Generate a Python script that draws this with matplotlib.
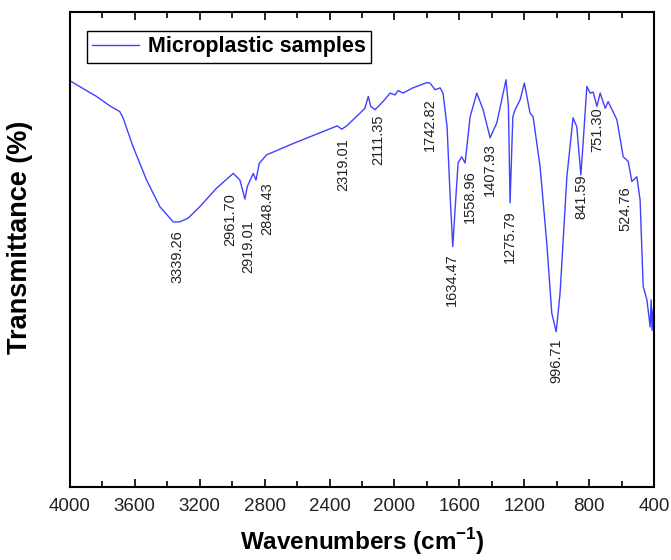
import matplotlib
matplotlib.use("Agg")
from matplotlib import pyplot as plt
from matplotlib.ticker import MultipleLocator

plt.rcParams['font.family'] = ['Liberation Sans', 'DejaVu Sans']
plt.rcParams['mathtext.fontset'] = 'custom'
plt.rcParams['mathtext.rm'] = 'Liberation Sans'
plt.rcParams['mathtext.bf'] = 'Liberation Sans:bold'

# FTIR spectrum, wavenumber (cm-1) vs transmittance (arbitrary %)
wavenumber = [4000, 3990, 3836, 3753, 3692, 3671, 3610, 3527, 3445, 3363, 3322, 3271,
              3199, 3096, 2993, 2952, 2921, 2907, 2870, 2853, 2833, 2788, 2623, 2367,
              2352, 2325, 2294, 2233, 2182, 2161, 2147, 2120, 2071, 2027, 1997, 1978,
              1947, 1886, 1800, 1781, 1750, 1719, 1701, 1676, 1658, 1641, 1627, 1608,
              1586, 1565, 1534, 1493, 1454, 1411, 1370, 1339, 1313, 1298, 1288, 1271,
              1257, 1226, 1200, 1165, 1146, 1103, 1062, 1031, 1004, 980, 938, 900,
              877, 852, 838, 815, 795, 776, 753, 733, 702, 684, 630, 591,
              560, 538, 507, 487, 468, 445, 425, 419, 413, 407]
transmittance = [85.5, 85.3, 82.2, 80.2, 79.0, 77.6, 71.6, 64.6, 59.0, 55.8, 55.8, 56.6,
                 59.0, 62.9, 66.0, 64.6, 60.6, 63.2, 66.0, 64.6, 68.1, 69.9, 72.3, 75.8,
                 76.0, 75.3, 76.0, 78.0, 79.7, 82.2, 80.1, 79.4, 81.1, 82.9, 82.5, 83.4,
                 82.9, 84.0, 85.1, 85.0, 83.6, 84.0, 82.9, 75.8, 61.9, 50.6, 58.3, 68.2,
                 69.5, 68.2, 77.9, 82.9, 79.4, 73.5, 76.6, 81.5, 85.7, 80.1, 59.8, 77.9,
                 79.4, 81.5, 85.0, 78.7, 77.9, 67.4, 51.4, 36.6, 32.7, 40.8, 65.3, 77.7,
                 75.8, 65.7, 72.4, 84.3, 82.9, 83.1, 80.1, 82.9, 79.7, 81.1, 77.3, 69.5,
                 68.5, 64.3, 65.3, 60.4, 42.2, 39.4, 33.7, 39.4, 33.0, 37.3]

peak_labels = ['3339.26', '2961.70', '2919.01', '2848.43', '2319.01', '2111.35',
               '1742.82', '1634.47', '1558.96', '1407.93', '1275.79', '996.71',
               '841.59', '751.30', '524.76']
label_x = [3334, 3014, 2903, 2786, 2317, 2101, 1781, 1645, 1534, 1411, 1288, 1004,
           846, 752, 579]
label_y = [54.1, 61.9, 56.2, 64.2, 73.5, 78.3, 81.9, 49.3, 66.7, 72.4, 58.3, 31.4,
           65.7, 80.0, 63.2]


def plot():
    fig = plt.figure(figsize=(6.71, 5.6), dpi=100)
    ax = fig.add_axes([0.104, 0.130, 0.871, 0.849])

    ax.plot(wavenumber, transmittance, color='#4040ff', lw=1.0, label='Microplastic samples')

    for txt, x, y in zip(peak_labels, label_x, label_y):
        ax.text(x, y, txt, rotation=90, ha='center', va='top', fontsize=10.5, color='#222222')

    ax.set_xlim(4000, 400)
    ax.set_ylim(0, 100)
    ax.xaxis.set_major_locator(MultipleLocator(400))
    ax.xaxis.set_minor_locator(MultipleLocator(200))
    ax.tick_params(axis='x', which='both', direction='in', top=True, labelsize=13.5, pad=8,
                   labelcolor='#222222')
    ax.tick_params(axis='x', which='major', length=6, width=1.2)
    ax.tick_params(axis='x', which='minor', length=4, width=1.2)
    ax.tick_params(axis='y', left=False, labelleft=False)
    for s in ax.spines.values():
        s.set_linewidth(1.5)

    ax.set_xlabel(r'Wavenumbers (cm$^{\mathbf{-1}}$)', fontsize=17.5, fontweight='bold', labelpad=8)
    ax.set_ylabel('Transmittance (%)', fontsize=19.5, fontweight='bold')
    ax.yaxis.set_label_coords(-0.063, 0.525)

    leg = ax.legend(loc='upper left', bbox_to_anchor=(0.029, 0.96), fancybox=False,
                    edgecolor='black', framealpha=1, prop={'size': 15.5, 'weight': 'bold'},
                    handlelength=2.2, handletextpad=0.4, borderpad=0.25, borderaxespad=0)
    leg.get_frame().set_linewidth(1.0)

    plt.savefig('out.png')


if __name__ == '__main__':
    plot()
